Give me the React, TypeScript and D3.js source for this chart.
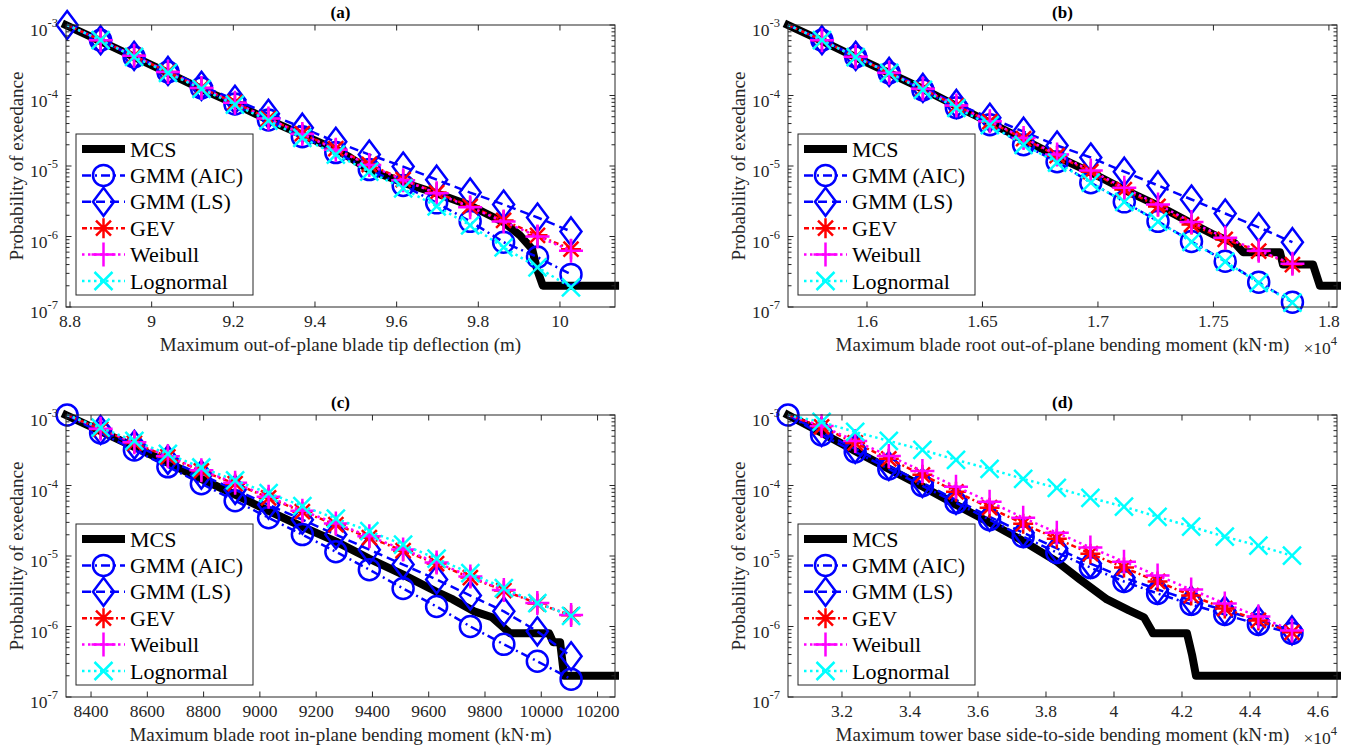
import React from 'react';
import * as d3 from 'd3';

const FONT = "'Liberation Serif', 'Times New Roman', Times, serif";
const AX = '#262626';
const W = 549;
const H = 282;

// ---------- (a) blade tip deflection
const aMarkX = [8.793, 8.875, 8.957, 9.04, 9.122, 9.204, 9.286, 9.369, 9.451, 9.533, 9.616, 9.698, 9.78, 9.862, 9.945, 10.027];
const aMcsX = [8.79, 8.873, 8.957, 9.04, 9.121, 9.204, 9.285, 9.368, 9.451, 9.486, 9.532, 9.616, 9.699, 9.78, 9.863, 9.902, 9.932, 9.944, 9.958, 10.135];
const aMcsP = [1e-3, 5.94e-4, 3.52e-4, 2.09e-4, 1.24e-4, 7.63e-5, 4.53e-5, 2.78e-5, 1.71e-5, 1.32e-5, 8.9e-6, 5.82e-6, 4.07e-6, 2.75e-6, 1.58e-6, 1.04e-6, 6.6e-7, 3.4e-7, 2e-7, 2e-7];
const aAic = [1e-3, 6.1e-4, 3.53e-4, 2.16e-4, 1.28e-4, 7.6e-5, 4.5e-5, 2.6e-5, 1.55e-5, 8.9e-6, 5.3e-6, 3.0e-6, 1.64e-6, 8.3e-7, 5.1e-7, 2.9e-7];
const aLs = [1e-3, 6.1e-4, 3.65e-4, 2.23e-4, 1.37e-4, 8.7e-5, 5.5e-5, 3.5e-5, 2.2e-5, 1.45e-5, 9.8e-6, 6.4e-6, 4.2e-6, 2.84e-6, 1.86e-6, 1.18e-6];
const aGev = [1e-3, 6.1e-4, 3.65e-4, 2.16e-4, 1.28e-4, 7.9e-5, 4.7e-5, 2.87e-5, 1.76e-5, 1.05e-5, 6.4e-6, 4.2e-6, 2.67e-6, 1.69e-6, 1.04e-6, 6.6e-7];
const aWeib = [1e-3, 6.1e-4, 3.65e-4, 2.16e-4, 1.28e-4, 7.9e-5, 4.7e-5, 2.85e-5, 1.7e-5, 1.03e-5, 6.3e-6, 4.1e-6, 2.6e-6, 1.63e-6, 1.0e-6, 6.3e-7];
const aLogn = [1e-3, 6.1e-4, 3.53e-4, 2.09e-4, 1.24e-4, 7.4e-5, 4.4e-5, 2.5e-5, 1.45e-5, 8.3e-6, 4.8e-6, 2.67e-6, 1.44e-6, 7.0e-7, 3.65e-7, 1.9e-7];
const aTicks = [8.8, 9, 9.2, 9.4, 9.6, 9.8, 10];
const aTickLabels = ['8.8', '9', '9.2', '9.4', '9.6', '9.8', '10'];

// ---------- (b) blade root out-of-plane moment (kN.m)
const bMarkX = [15658, 15805, 15951, 16096, 16242, 16387, 16532, 16678, 16823, 16969, 17114, 17260, 17405, 17551, 17696, 17842];
const bMcsX = [15658, 15805, 15948, 16095, 16242, 16385, 16532, 16680, 16823, 16970, 17113, 17260, 17407, 17506, 17593, 17628, 17788, 17801, 17931, 17961, 18035];
const bMcsP = [1e-3, 5.94e-4, 3.53e-4, 2.09e-4, 1.24e-4, 7.15e-5, 4.11e-5, 2.36e-5, 1.36e-5, 8.07e-6, 4.64e-6, 2.75e-6, 1.53e-6, 1.04e-6, 8e-7, 6e-7, 6e-7, 4e-7, 4e-7, 2e-7, 2e-7];
const bAic = [1e-3, 6.1e-4, 3.53e-4, 2.09e-4, 1.2e-4, 6.7e-5, 3.85e-5, 2.0e-5, 1.15e-5, 5.8e-6, 3.1e-6, 1.64e-6, 8.5e-7, 4.45e-7, 2.24e-7, 1.17e-7];
const bLs = [1e-3, 6.1e-4, 3.65e-4, 2.16e-4, 1.28e-4, 7.6e-5, 4.84e-5, 3.07e-5, 1.95e-5, 1.32e-5, 8.3e-6, 5.3e-6, 3.35e-6, 2.12e-6, 1.35e-6, 8.3e-7];
const bGev = [1e-3, 6.1e-4, 3.53e-4, 2.09e-4, 1.24e-4, 7.15e-5, 4.25e-5, 2.44e-5, 1.4e-5, 8.3e-6, 4.64e-6, 2.67e-6, 1.48e-6, 9.1e-7, 6.2e-7, 4.0e-7];
const bWeib = [1e-3, 6.1e-4, 3.55e-4, 2.1e-4, 1.25e-4, 7.2e-5, 4.3e-5, 2.5e-5, 1.45e-5, 8.6e-6, 4.9e-6, 2.85e-6, 1.6e-6, 9.6e-7, 6.3e-7, 4.1e-7];
const bLogn = [1e-3, 6.1e-4, 3.5e-4, 2.1e-4, 1.2e-4, 6.7e-5, 3.8e-5, 2.0e-5, 1.12e-5, 5.8e-6, 3.1e-6, 1.62e-6, 8.4e-7, 4.4e-7, 2.2e-7, 1.15e-7];
const bTicks = [16000, 16500, 17000, 17500, 18000];
const bTickLabels = ['1.6', '1.65', '1.7', '1.75', '1.8'];

// ---------- (c) blade root in-plane moment (kN.m)
const cMarkX = [8315, 8434, 8554, 8673, 8792, 8912, 9031, 9151, 9270, 9389, 9509, 9628, 9748, 9867, 9986, 10106];
const cMcsX = [8311, 8432, 8553, 8674, 8791, 8912, 9029, 9150, 9271, 9388, 9509, 9626, 9686, 9761, 9825, 9889, 10028, 10042, 10067, 10081, 10262];
const cMcsP = [1e-3, 5.94e-4, 3.53e-4, 2.09e-4, 1.24e-4, 7.4e-5, 4.4e-5, 2.61e-5, 1.6e-5, 9.2e-6, 5.45e-6, 3.13e-6, 2.42e-6, 1.64e-6, 1.35e-6, 8e-7, 8e-7, 6e-7, 6e-7, 2e-7, 2e-7];
const cAic = [1e-3, 5.56e-4, 3.2e-4, 1.84e-4, 1.06e-4, 6.08e-5, 3.49e-5, 2.01e-5, 1.15e-5, 6.4e-6, 3.46e-6, 1.92e-6, 1.0e-6, 5.58e-7, 3.21e-7, 1.79e-7];
const cLs = [1e-3, 6.14e-4, 3.77e-4, 2.31e-4, 1.42e-4, 8.69e-5, 5.33e-5, 3.27e-5, 2.01e-5, 1.23e-5, 7.55e-6, 4.64e-6, 2.75e-6, 1.64e-6, 8.53e-7, 3.78e-7];
const cGev = [1e-3, 6.3e-4, 4.0e-4, 2.55e-4, 1.61e-4, 1.06e-4, 6.7e-5, 4.25e-5, 2.78e-5, 1.82e-5, 1.19e-5, 7.8e-6, 4.95e-6, 3.24e-6, 2.12e-6, 1.44e-6];
const cWeib = [1e-3, 6.4e-4, 4.1e-4, 2.6e-4, 1.65e-4, 1.09e-4, 6.9e-5, 4.4e-5, 2.9e-5, 1.9e-5, 1.24e-5, 8.1e-6, 5.1e-6, 3.3e-6, 2.15e-6, 1.45e-6];
const cLogn = [1e-3, 6.6e-4, 4.3e-4, 2.8e-4, 1.8e-4, 1.18e-4, 7.8e-5, 5.1e-5, 3.4e-5, 2.25e-5, 1.45e-5, 9.2e-6, 5.7e-6, 3.5e-6, 2.15e-6, 1.42e-6];
const cTicks = [8400, 8600, 8800, 9000, 9200, 9400, 9600, 9800, 10000, 10200];
const cTickLabels = ['8400', '8600', '8800', '9000', '9200', '9400', '9600', '9800', '10000', '10200'];

// ---------- (d) tower base side-to-side moment (kN.m)
const dMarkX = [30412, 31400, 32388, 33377, 34365, 35353, 36341, 37329, 38318, 39306, 40294, 41282, 42270, 43259, 44247, 45235];
const dMcsX = [30412, 31412, 32382, 33382, 34382, 35353, 36353, 37353, 38323, 39000, 39794, 40441, 40882, 41088, 41147, 42147, 42294, 42412, 46559];
const dMcsP = [1e-3, 5.56e-4, 3.1e-4, 1.72e-4, 9.6e-5, 5.33e-5, 2.96e-5, 1.6e-5, 8.3e-6, 4.64e-6, 2.42e-6, 1.69e-6, 1.35e-6, 9.1e-7, 8e-7, 8e-7, 4e-7, 2e-7, 2e-7];
const dAic = [1e-3, 5.21e-4, 3.0e-4, 1.72e-4, 9.9e-5, 5.69e-5, 3.27e-5, 1.88e-5, 1.12e-5, 6.85e-6, 4.35e-6, 2.94e-6, 2.06e-6, 1.48e-6, 1.07e-6, 8.0e-7];
const dLs = [1e-3, 5.75e-4, 3.31e-4, 1.9e-4, 1.09e-4, 6.27e-5, 3.6e-5, 2.14e-5, 1.28e-5, 7.8e-6, 4.95e-6, 3.35e-6, 2.34e-6, 1.69e-6, 1.22e-6, 8.8e-7];
const dGev = [1e-3, 6.76e-4, 4.02e-4, 2.39e-4, 1.42e-4, 8.15e-5, 4.84e-5, 2.87e-5, 1.76e-5, 1.08e-5, 6.85e-6, 4.35e-6, 2.75e-6, 1.8e-6, 1.22e-6, 8.26e-7];
const dWeib = [1e-3, 6.99e-4, 4.29e-4, 2.63e-4, 1.61e-4, 9.6e-5, 5.88e-5, 3.49e-5, 2.14e-5, 1.32e-5, 8.3e-6, 5.28e-6, 3.35e-6, 2.12e-6, 1.39e-6, 8.8e-7];
const dLogn = [1e-3, 7.96e-4, 5.75e-4, 4.29e-4, 3.2e-4, 2.31e-4, 1.72e-4, 1.24e-4, 9.27e-5, 6.7e-5, 5.0e-5, 3.6e-5, 2.61e-5, 1.88e-5, 1.4e-5, 1.01e-5];
const dTicks = [32000, 34000, 36000, 38000, 40000, 42000, 44000, 46000];
const dTickLabels = ['3.2', '3.4', '3.6', '3.8', '4', '4.2', '4.4', '4.6'];

const yMajor = [1e-7, 1e-6, 1e-5, 1e-4, 1e-3];
const yMajorExp = ['-7', '-6', '-5', '-4', '-3'];
const yMinor = [1e-7, 1e-6, 1e-5, 1e-4].flatMap(e => [2, 3, 4, 5, 6, 7, 8, 9].map(k => k * e));

const legendNames = ['MCS', 'GMM (AIC)', 'GMM (LS)', 'GEV', 'Weibull', 'Lognormal'];

type Style = { color: string; width: number; dash: string; marker: string };
const styles: Style[] = [
  { color: '#000000', width: 8, dash: '', marker: '' },
  { color: '#0000ff', width: 2.5, dash: '9 4 2 4', marker: 'o' },
  { color: '#0000ff', width: 2.5, dash: '9 5', marker: 'd' },
  { color: '#ff0000', width: 2.5, dash: '5 3 2 3', marker: '*' },
  { color: '#ff00ff', width: 2.5, dash: '2.5 3.5', marker: '+' },
  { color: '#00ffff', width: 2.5, dash: '2.5 3.5', marker: 'x' },
];

function Marker({ type, cx, cy, color }: { type: string; cx: number; cy: number; color: string }) {
  const sw = 2.5;
  if (type === 'o') return <circle cx={cx} cy={cy} r={10.5} fill="none" stroke={color} strokeWidth={sw} />;
  let d = '';
  if (type === 'd') d = `M${cx},${cy - 14}L${cx + 10.5},${cy}L${cx},${cy + 14}L${cx - 10.5},${cy}Z`;
  if (type === '*') {
    const r = 10, q = 7.5;
    d = `M${cx},${cy - r}V${cy + r}M${cx - r},${cy}H${cx + r}M${cx - q},${cy - q}L${cx + q},${cy + q}M${cx - q},${cy + q}L${cx + q},${cy - q}`;
  }
  if (type === '+') {
    const r = 12;
    d = `M${cx},${cy - r}V${cy + r}M${cx - r},${cy}H${cx + r}`;
  }
  if (type === 'x') {
    const r = 9;
    d = `M${cx - r},${cy - r}L${cx + r},${cy + r}M${cx - r},${cy + r}L${cx + r},${cy - r}`;
  }
  return <path d={d} fill="none" stroke={color} strokeWidth={sw} />;
}

type PanelProps = {
  left: number; top: number; xDomain: [number, number];
  ticks: number[]; tickLabels: string[]; title: string; xLabel: string; exp: boolean;
  markX: number[]; mcsX: number[]; mcsP: number[]; fits: number[][]; firstMarks: number[];
};

function Panel(p: PanelProps) {
  const x = d3.scaleLinear().domain(p.xDomain).range([p.left, p.left + W]);
  const y = d3.scaleLog().domain([1e-7, 1e-3]).range([p.top + H, p.top]);
  const line = d3.line<[number, number]>().x(d => x(d[0])).y(d => y(d[1]));
  const bottom = p.top + H;
  const right = p.left + W;
  const series: [number, number][][] = [
    p.mcsX.map((v, i) => [v, p.mcsP[i]] as [number, number]),
    ...p.fits.map(vals => vals.map((v, i) => [p.markX[i], v] as [number, number])),
  ];
  const lgL = p.left + 10, lgT = bottom - 12 - 161;
  return (
    <g>
      {series.map((s, k) => {
        const st = styles[k];
        return (
          <g key={k}>
            <path d={line(s) || ''} fill="none" stroke={st.color} strokeWidth={st.width}
              strokeDasharray={st.dash || undefined} strokeLinejoin="round" strokeLinecap={k === 0 ? 'square' : 'butt'} />
            {st.marker && s.map((d, i) => (i === 0 && !p.firstMarks.includes(k)) ? null : (
              <Marker key={i} type={st.marker} cx={x(d[0])} cy={y(d[1])} color={st.color} />
            ))}
          </g>
        );
      })}
      {/* axes box */}
      <rect x={p.left} y={p.top} width={W} height={H} fill="none" stroke={AX} strokeWidth={1} />
      {p.ticks.map((t, i) => (
        <g key={i}>
          <line x1={x(t)} x2={x(t)} y1={bottom} y2={bottom - 5.5} stroke={AX} />
          <line x1={x(t)} x2={x(t)} y1={p.top} y2={p.top + 5.5} stroke={AX} />
          <text x={x(t)} y={bottom + 20} textAnchor="middle" fontSize={17.5} fill={AX}>{p.tickLabels[i]}</text>
        </g>
      ))}
      {yMajor.map((t, i) => (
        <g key={i}>
          <line x1={p.left} x2={p.left + 5.5} y1={y(t)} y2={y(t)} stroke={AX} />
          <line x1={right} x2={right - 5.5} y1={y(t)} y2={y(t)} stroke={AX} />
          <text x={p.left - 8} y={y(t) + 11} textAnchor="end" fontSize={17.5} fill={AX}>
            10<tspan dy={-9} fontSize={12.5}>{yMajorExp[i]}</tspan>
          </text>
        </g>
      ))}
      {yMinor.map((t, i) => (
        <g key={i}>
          <line x1={p.left} x2={p.left + 3.5} y1={y(t)} y2={y(t)} stroke={AX} />
          <line x1={right} x2={right - 3.5} y1={y(t)} y2={y(t)} stroke={AX} />
        </g>
      ))}
      <text x={p.left + W / 2} y={p.top - 7} textAnchor="middle" fontSize={17} fontWeight="bold" fill="#000">{p.title}</text>
      <text x={p.left + W / 2} y={bottom + 44} textAnchor="middle" fontSize={19} fill={AX}>{p.xLabel}</text>
      <text transform={`translate(${p.left - 43},${p.top + H / 2}) rotate(-90)`} textAnchor="middle" fontSize={19} fill={AX}>
        Probability of exeedance
      </text>
      {p.exp && (
        <text x={right} y={bottom + 47} textAnchor="end" fontSize={17.5} fill={AX}>
          ×10<tspan dy={-9} fontSize={12.5}>4</tspan>
        </text>
      )}
      {/* legend */}
      <rect x={lgL} y={lgT} width={177} height={161} fill="#fff" stroke={AX} strokeWidth={1} />
      {legendNames.map((n, k) => {
        const st = styles[k];
        const cy = lgT + 15 + k * 26.4;
        return (
          <g key={n}>
            <line x1={lgL + 6} x2={lgL + 49} y1={cy} y2={cy} stroke={st.color} strokeWidth={st.width}
              strokeDasharray={st.dash || undefined} />
            {st.marker && <Marker type={st.marker} cx={lgL + 27.5} cy={cy} color={st.color} />}
            <text x={lgL + 54} y={cy + 7.5} fontSize={22} fill="#000">{n}</text>
          </g>
        );
      })}
    </g>
  );
}

export default function App() {
  return (
    <svg width={1355} height={749} style={{ position: 'absolute', left: 0, top: 0, background: '#fff', fontFamily: FONT }}>
      <rect width={1355} height={749} fill="#fff" />
      <Panel left={66} top={25} xDomain={[8.7902, 10.1348]} ticks={aTicks} tickLabels={aTickLabels}
        title="(a)" xLabel="Maximum out-of-plane blade tip deflection (m)" exp={false} firstMarks={[2]}
        markX={aMarkX} mcsX={aMcsX} mcsP={aMcsP} fits={[aAic, aLs, aGev, aWeib, aLogn]} />
      <Panel left={788} top={25} xDomain={[15658, 18035]} ticks={bTicks} tickLabels={bTickLabels}
        title="(b)" xLabel="Maximum blade root out-of-plane bending moment (kN·m)" exp={true} firstMarks={[]}
        markX={bMarkX} mcsX={bMcsX} mcsP={bMcsP} fits={[bAic, bLs, bGev, bWeib, bLogn]} />
      <Panel left={66} top={415} xDomain={[8311, 10262]} ticks={cTicks} tickLabels={cTickLabels}
        title="(c)" xLabel="Maximum blade root in-plane bending moment (kN·m)" exp={false} firstMarks={[1]}
        markX={cMarkX} mcsX={cMcsX} mcsP={cMcsP} fits={[cAic, cLs, cGev, cWeib, cLogn]} />
      <Panel left={788} top={415} xDomain={[30412, 46559]} ticks={dTicks} tickLabels={dTickLabels}
        title="(d)" xLabel="Maximum tower base side-to-side bending moment (kN·m)" exp={true} firstMarks={[1]}
        markX={dMarkX} mcsX={dMcsX} mcsP={dMcsP} fits={[dAic, dLs, dGev, dWeib, dLogn]} />
    </svg>
  );
}
